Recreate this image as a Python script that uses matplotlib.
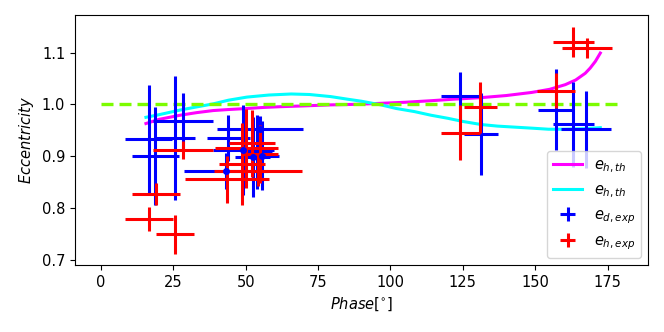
"""Eccentricity vs phase: theory curves and measured points."""

import matplotlib.pyplot as plt

plt.rcParams["font.size"] = 10.5

# theoretical curves
phase_th_h = [15.5, 20, 27.3, 33, 38.7, 44, 50.4, 56, 62, 70, 79.3, 88, 96.7, 105,
              114, 122, 131.4, 140, 148.8, 155, 160.4, 164, 167.3, 169, 170.8, 172.5]
ecc_th_h = [0.963, 0.971, 0.979, 0.984, 0.988, 0.990, 0.992, 0.994, 0.9955, 0.997,
            0.999, 1.000, 1.002, 1.004, 1.007, 1.010, 1.013, 1.017, 1.023, 1.029,
            1.038, 1.047, 1.060, 1.070, 1.083, 1.099]

phase_th_d = [15.5, 20, 27.3, 33, 38.8, 44, 50.4, 58, 65.7, 72, 79.3, 85.1, 90,
              96.7, 102, 108.3, 114, 119.9, 125, 131.4, 137, 143, 149, 154.6, 160,
              167, 172.5]
ecc_th_d = [0.975, 0.980, 0.989, 0.995, 1.001, 1.008, 1.014, 1.018, 1.020, 1.019,
            1.015, 1.010, 1.006, 0.999, 0.992, 0.986, 0.979, 0.973, 0.967, 0.961,
            0.958, 0.956, 0.954, 0.952, 0.952, 0.953, 0.955]

# reference line
ref_phase = [0, 180]
ref_ecc = [1.0, 1.0]

# measured e_d (blue)
d_phase = [16.4, 18.8, 25.6, 28.3, 124.1, 131.2, 157.1, 163.2, 167.6, 53.9, 44.0]
d_ecc = [0.933, 0.900, 0.935, 0.968, 1.017, 0.943, 0.990, 0.962, 0.952, 0.908, 0.935]
d_xerr = [8.2, 8.2, 6.9, 10.4, 6.8, 5.8, 6.2, 7.1, 8.7, 5.0, 7.5]
d_yerr = [0.104, 0.095, 0.120, 0.053, 0.045, 0.079, 0.079, 0.082, 0.074, 0.071, 0.045]

# measured e_d with markers (cluster near 50 deg)
dm_phase = [54.8, 49.2, 52.4, 55.6, 43.2]
dm_ecc = [0.952, 0.912, 0.898, 0.901, 0.871]
dm_xerr = [14.9, 10.4, 6.0, 5.8, 14.5]
dm_yerr = [0.025, 0.086, 0.077, 0.066, 0.035]

# measured e_h (red)
h_phase = [16.5, 18.9, 25.6, 28.3, 124.1, 131.1, 157.1, 163.2, 167.9,
           43.5, 50.2, 52.1, 55.0, 48.6, 54.2]
h_ecc = [0.778, 0.827, 0.749, 0.912, 0.945, 0.994, 1.026, 1.121, 1.109,
         0.855, 0.915, 0.925, 0.905, 0.885, 0.872]
h_xerr = [8.3, 8.3, 6.5, 10.4, 6.8, 5.8, 6.5, 7.1, 8.7,
          14.6, 11.0, 8.0, 6.0, 8.0, 15.3]
h_yerr = [0.023, 0.022, 0.037, 0.017, 0.053, 0.049, 0.034, 0.029, 0.019,
          0.045, 0.076, 0.065, 0.056, 0.079, 0.030]

fig, ax = plt.subplots(figsize=(6.64, 3.32), dpi=100)
fig.subplots_adjust(left=0.113, right=0.976, top=0.954, bottom=0.202)

ax.plot(phase_th_h, ecc_th_h, color="magenta", lw=2.2, label=r"$e_{h,th}$")
ax.plot(phase_th_d, ecc_th_d, color="cyan", lw=2.2, label=r"$e_{h,th}$")
ax.plot(ref_phase, ref_ecc, color="lawngreen", lw=2.4, dashes=(3.6, 1.8))

ax.errorbar(d_phase, d_ecc, xerr=d_xerr, yerr=d_yerr, fmt="none",
            ecolor="blue", elinewidth=2.2, capsize=0, label=r"$e_{d,exp}$")
ax.errorbar(dm_phase, dm_ecc, xerr=dm_xerr, yerr=dm_yerr, fmt="o", ms=4,
            color="blue", ecolor="blue", elinewidth=2.2, capsize=0)
ax.errorbar(h_phase, h_ecc, xerr=h_xerr, yerr=h_yerr, fmt="none",
            ecolor="red", elinewidth=2.2, capsize=0, label=r"$e_{h,exp}$")

ax.set_xlabel(r"$Phase[^{\circ}]$")
ax.set_ylabel(r"$Eccentricity$")
ax.legend(loc="lower right")

fig.savefig("out.png", dpi=100)
plt.close(fig)
